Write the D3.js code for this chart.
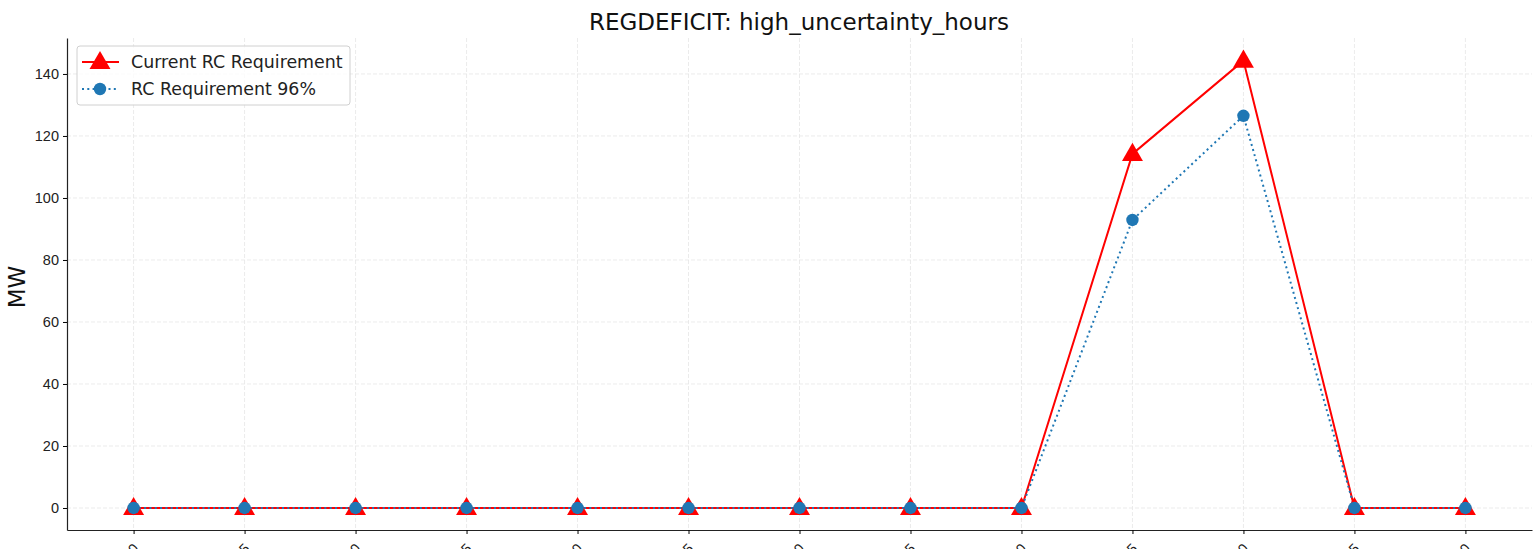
<!DOCTYPE html>
<html>
<head>
<meta charset="utf-8">
<script src="https://d3js.org/d3.v7.min.js"></script>
<style>
  body { margin: 0; background: #fff; }
  svg { font-family: "DejaVu Sans", sans-serif; }
</style>
</head>
<body>
<svg width="1538" height="549"></svg>
<script>
// data
var labels = ["12:00", "12:15", "12:30", "12:45", "13:00", "13:15", "13:30", "13:45", "14:00", "14:15", "14:30", "14:45", "15:00"];
var currentReq = [0, 0, 0, 0, 0, 0, 0, 0, 0, 114.2, 144.3, 0, 0];
var req96 = [0, 0, 0, 0, 0, 0, 0, 0, 0, 92.9, 126.5, 0, 0];
var yTicks = [0, 20, 40, 60, 80, 100, 120, 140];

var svg = d3.select("svg");
var mLeft = 67, mRight = 1532, mTop = 38, mBottom = 530;

var x = d3.scaleLinear().domain([-0.6, labels.length - 1 + 0.6]).range([mLeft, mRight]);
var y = d3.scaleLinear().domain([-7.1, 151.6]).range([mBottom, mTop]);

// grid
svg.append("g").selectAll("line").data(yTicks).enter().append("line")
  .attr("x1", mLeft).attr("x2", mRight)
  .attr("y1", function(d) { return y(d); }).attr("y2", function(d) { return y(d); })
  .attr("stroke", "#e6e6e6").attr("stroke-width", 0.8).attr("stroke-dasharray", "4,2");
svg.append("g").selectAll("line").data(labels).enter().append("line")
  .attr("y1", mTop).attr("y2", mBottom)
  .attr("x1", function(d, i) { return x(i); }).attr("x2", function(d, i) { return x(i); })
  .attr("stroke", "#e6e6e6").attr("stroke-width", 0.8).attr("stroke-dasharray", "4,2");

// axes
var yAxis = d3.axisLeft(y).tickValues(yTicks).tickSize(4).tickSizeOuter(0).tickPadding(4);
var gy = svg.append("g").attr("transform", "translate(" + mLeft + ",0)").call(yAxis);
gy.select(".domain").attr("stroke", "#222").attr("stroke-width", 1.2);
gy.selectAll("text").attr("font-size", 14.5).attr("fill", "#222");

var xAxis = d3.axisBottom(x).tickValues(d3.range(labels.length))
  .tickFormat(function(i) { return labels[i]; }).tickSize(4).tickSizeOuter(0);
var gx = svg.append("g").attr("transform", "translate(0," + mBottom + ")").call(xAxis);
gx.select(".domain").attr("stroke", "#222").attr("stroke-width", 1.2);
gx.selectAll("text").attr("font-size", 14.5).attr("fill", "#222")
  .attr("text-anchor", "end").attr("dy", "0.35em")
  .attr("transform", "translate(-3,11) rotate(-45)");

// lines
var line = d3.line().x(function(d, i) { return x(i); }).y(function(d) { return y(d); });
svg.append("path").datum(currentReq).attr("d", line)
  .attr("fill", "none").attr("stroke", "#ff0000").attr("stroke-width", 2);
svg.append("path").datum(req96).attr("d", line)
  .attr("fill", "none").attr("stroke", "#1f77b4").attr("stroke-width", 2).attr("stroke-dasharray", "2,3.3");

var tri = d3.symbol().type(d3.symbolTriangle).size(190);
svg.append("g").selectAll("path").data(currentReq).enter().append("path")
  .attr("d", tri).attr("fill", "#ff0000")
  .attr("transform", function(d, i) { return "translate(" + x(i) + "," + (y(d) + 1) + ")"; });
svg.append("g").selectAll("circle").data(req96).enter().append("circle")
  .attr("cx", function(d, i) { return x(i); }).attr("cy", function(d) { return y(d); })
  .attr("r", 6.2).attr("fill", "#1f77b4");

// title and label
svg.append("text").attr("x", 799).attr("y", 30).attr("text-anchor", "middle")
  .attr("font-size", 23).attr("fill", "#111").text("REGDEFICIT: high_uncertainty_hours");
svg.append("text").attr("transform", "translate(25,287) rotate(-90)").attr("text-anchor", "middle")
  .attr("font-size", 23).attr("fill", "#111").text("MW");

// legend
var lg = svg.append("g").attr("transform", "translate(77,46)");
lg.append("rect").attr("width", 273).attr("height", 59).attr("rx", 3)
  .attr("fill", "#fff").attr("fill-opacity", 0.8).attr("stroke", "#d0d0d0");
lg.append("line").attr("x1", 5).attr("x2", 42).attr("y1", 16).attr("y2", 16)
  .attr("stroke", "#ff0000").attr("stroke-width", 2);
lg.append("path").attr("d", tri).attr("fill", "#ff0000").attr("transform", "translate(23,17)");
lg.append("line").attr("x1", 5).attr("x2", 42).attr("y1", 43).attr("y2", 43)
  .attr("stroke", "#1f77b4").attr("stroke-width", 2).attr("stroke-dasharray", "2,3.3");
lg.append("circle").attr("cx", 23).attr("cy", 43).attr("r", 6.2).attr("fill", "#1f77b4");
lg.append("text").attr("x", 54).attr("y", 22).attr("font-size", 17.4).attr("fill", "#222").text("Current RC Requirement");
lg.append("text").attr("x", 54).attr("y", 49).attr("font-size", 17.4).attr("fill", "#222").text("RC Requirement 96%");
</script>
</body>
</html>
